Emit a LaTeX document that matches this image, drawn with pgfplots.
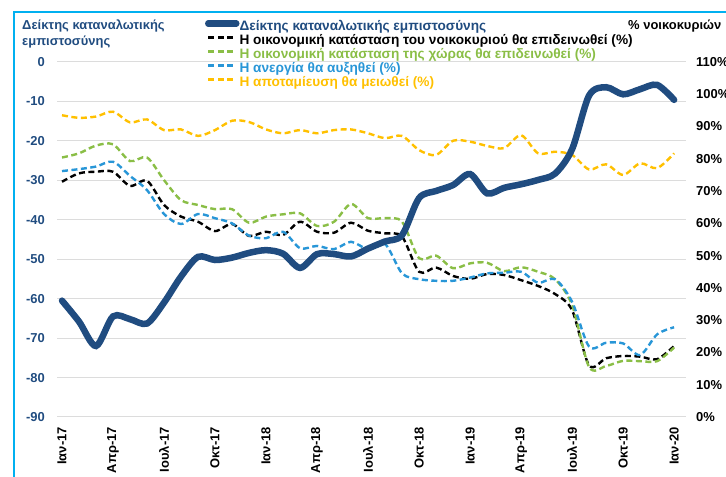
\documentclass[border=0pt]{standalone}
\usepackage{fontspec}
\setmainfont{Liberation Sans}
\usepackage{pgfplots}
\usepackage{pgfplotstable}
\pgfplotsset{compat=1.18}

\definecolor{navy}{RGB}{32,76,128}
\definecolor{lgreen}{RGB}{138,190,70}
\definecolor{lblue}{RGB}{40,150,215}
\definecolor{gold}{RGB}{255,192,0}
\definecolor{framecol}{RGB}{0,176,240}
\definecolor{gridgray}{RGB}{220,220,220}

\newcommand\lbl{\fontsize{13}{15}\selectfont\bfseries}
\tikzset{dsh/.style={line width=2.4bp, dash pattern=on 6bp off 3.5bp}}

% consumer confidence index, Jan-17 .. Jan-20
\pgfplotstableread{
m conf
0 -60.5
1 -65.8
2 -72.0
3 -64.5
4 -65.2
5 -66.3
6 -61.0
7 -54.4
8 -49.4
9 -50.2
10 -49.6
11 -48.4
12 -47.7
13 -48.6
14 -52.2
15 -48.7
16 -48.7
17 -49.3
18 -47.3
19 -45.5
20 -43.9
21 -34.5
22 -32.7
23 -31.2
24 -28.4
25 -33.3
26 -31.9
27 -31.0
28 -29.9
29 -28.3
30 -22.1
31 -8.5
32 -6.4
33 -8.2
34 -6.9
35 -5.8
36 -9.6
}\conf

% share of households (%)
\pgfplotstableread{
m house country unemp save
0 72.9 80.4 76.2 93.5
1 75.5 81.7 76.8 92.7
2 76.0 84.1 77.6 93.1
3 76.0 84.5 79.1 94.6
4 71.6 79.3 74.7 91.3
5 73.2 80.4 70.3 92.2
6 65.7 73.4 62.9 88.9
7 62.1 67.2 59.8 89.1
8 60.5 65.7 62.9 87.1
9 57.6 64.4 61.6 88.9
10 59.8 64.4 60.0 91.8
11 56.1 60.2 56.2 91.4
12 57.4 62.1 55.4 89.1
13 56.4 62.8 57.4 87.9
14 60.5 63.1 52.3 88.9
15 57.4 59.2 53.0 87.9
16 57.1 60.5 52.0 88.9
17 60.2 66.0 54.3 89.1
18 57.7 61.6 52.0 87.9
19 56.9 61.6 53.6 86.4
20 55.9 60.5 44.5 87.1
21 45.0 49.2 42.7 82.7
22 46.3 50.0 42.2 81.2
23 43.7 46.1 42.2 85.6
24 42.8 47.6 43.2 85.3
25 44.3 47.8 44.5 84.0
26 44.0 45.2 44.7 83.3
27 42.4 46.4 45.0 87.3
28 40.6 45.0 41.6 81.7
29 38.1 42.7 42.7 82.2
30 33.1 34.7 35.7 81.2
31 16.0 15.5 21.8 76.7
32 18.2 15.8 23.0 78.3
33 18.9 17.4 22.8 75.0
34 18.7 17.3 19.2 78.6
35 17.9 17.3 25.6 77.1
36 22.0 21.5 27.8 81.7
}\pct

\begin{document}
\begin{tikzpicture}[x=1bp,y=1bp]
\draw[framecol, line width=2.5bp] (14,-10) -- (14,465) -- (740,465);

% right axis: percentages (drawn first, below the index line)
\begin{axis}[
  at={(57bp,60bp)}, anchor=south west,
  scale only axis, width=629bp, height=355bp,
  xmin=-0.294, xmax=36.7, ymin=0, ymax=110,
  axis line style={draw=none}, major tick length=0pt,
  xtick=\empty,
  ytick={0,10,...,110},
  yticklabels={0\%,10\%,20\%,30\%,40\%,50\%,60\%,70\%,80\%,90\%,100\%,110\%},
  yticklabel pos=right,
  yticklabel style={font=\lbl, black, inner sep=0pt, anchor=west},
  yticklabel shift=10bp,
  extra y ticks={0,12.2222,24.4444,36.6667,48.8889,61.1111,73.3333,85.5556,97.7778,110},
  extra y tick labels={},
  extra y tick style={grid=major},
  major grid style={gridgray, line width=1bp},
]
\addplot[black, dsh, smooth] table[x=m,y=house]{\pct};
\addplot[lgreen, dsh, smooth] table[x=m,y=country]{\pct};
\addplot[lblue, dsh, smooth] table[x=m,y=unemp]{\pct};
\addplot[gold, dsh, smooth] table[x=m,y=save]{\pct};
\end{axis}

% left axis: confidence index
\begin{axis}[
  at={(57bp,60bp)}, anchor=south west,
  scale only axis, width=629bp, height=355bp,
  xmin=-0.294, xmax=36.7, ymin=-90, ymax=0,
  axis line style={draw=none}, major tick length=0pt,
  ytick={-90,-80,...,0},
  yticklabels={-90,-80,-70,-60,-50,-40,-30,-20,-10,0},
  yticklabel style={font=\lbl, navy, inner sep=0pt},
  yticklabel shift=12bp,
  xtick={0,3,...,36},
  xticklabels={Ιαν-17,Απρ-17,Ιουλ-17,Οκτ-17,Ιαν-18,Απρ-18,Ιουλ-18,Οκτ-18,Ιαν-19,Απρ-19,Ιουλ-19,Οκτ-19,Ιαν-20},
  xticklabel style={font=\lbl, black, rotate=90, anchor=east, inner sep=0pt},
  xticklabel shift=10bp,
  legend cell align=left,
  legend image code/.code={\draw[#1] (0bp,4bp) -- (28bp,4bp);},
  legend style={at={(axis description cs:0.235,1.118)}, anchor=north west,
    draw=none, fill=none, inner sep=0pt, row sep=0pt,
    font=\fontsize{13.7}{15}\selectfont\bfseries,
    nodes={inner sep=0pt, text height=9.5bp, text depth=4.5bp}},
]
\addplot[navy, line width=6.5bp, line cap=round, smooth] table[x=m,y=conf]{\conf};
\addlegendentry{\textcolor{navy}{Δείκτης καταναλωτικής εμπιστοσύνης}}
\addlegendimage{black, dsh}
\addlegendentry{Η οικονομική κατάσταση του νοικοκυριού θα επιδεινωθεί (\%)}
\addlegendimage{lgreen, dsh}
\addlegendentry{\textcolor{lgreen}{Η οικονομική κατάσταση της χώρας θα επιδεινωθεί (\%)}}
\addlegendimage{lblue, dsh}
\addlegendentry{\textcolor{lblue}{Η ανεργία θα αυξηθεί (\%)}}
\addlegendimage{gold, dsh}
\addlegendentry{\textcolor{gold}{Η αποταμίευση θα μειωθεί (\%)}}
\end{axis}

\node[anchor=base west, inner sep=0pt, navy, font=\lbl] at (22,447.5) {Δείκτης καταναλωτικής};
\node[anchor=base west, inner sep=0pt, navy, font=\lbl] at (22,431) {εμπιστοσύνης};
\node[anchor=base west, inner sep=0pt, black, font=\lbl] at (628,447.5) {\% νοικοκυριών};

\pgfresetboundingbox
\useasboundingbox (0,0) rectangle (726,477);
\end{tikzpicture}
\end{document}
